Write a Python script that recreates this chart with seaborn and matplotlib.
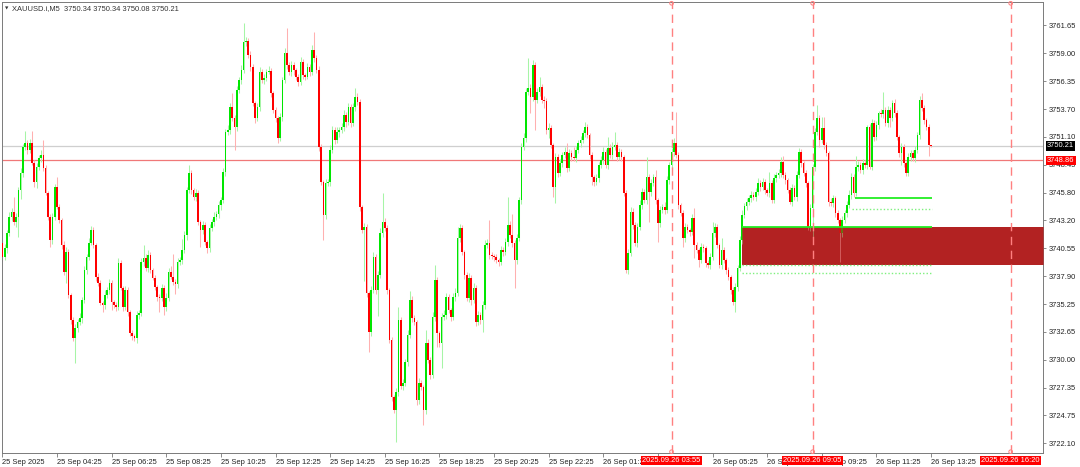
import numpy as np
import matplotlib
matplotlib.use("Agg")
import matplotlib.pyplot as plt
import seaborn as sns
from matplotlib.transforms import blended_transform_factory

# ---------------- data (XAUUSD.i, M5) ----------------
symbol = "XAUUSD.i,M5"
first_open = 3741.03
closes = [
    3739.71, 3740.56, 3741.98, 3743.49, 3743.96, 3743.02, 3743.49, 3746.05, 3747.65, 3750.11,
    3750.49, 3749.83, 3750.49, 3748.60, 3746.80, 3748.22, 3749.07, 3749.36, 3748.13, 3745.76,
    3743.49, 3741.32, 3743.49, 3746.33, 3744.44, 3743.21, 3740.84, 3738.29, 3740.18, 3736.11,
    3733.75, 3732.05, 3732.99, 3733.56, 3733.94, 3735.64, 3738.48, 3739.71, 3741.03, 3742.26,
    3740.84, 3737.82, 3737.25, 3735.36, 3735.17, 3736.11, 3736.59, 3737.25, 3735.45, 3735.17,
    3734.98, 3739.14, 3736.78, 3734.98, 3736.59, 3734.50, 3732.52, 3732.23, 3732.05, 3734.22,
    3734.41, 3739.23, 3739.61, 3738.67, 3739.90, 3738.48, 3737.72, 3736.87, 3735.92, 3735.83,
    3736.78, 3734.98, 3735.83, 3738.29, 3737.82, 3737.34, 3737.15, 3739.23, 3739.42, 3740.37,
    3741.79, 3746.05, 3747.65, 3746.05, 3745.38, 3745.76, 3743.02, 3742.26, 3742.74, 3741.13,
    3740.56, 3742.45, 3743.02, 3743.49, 3743.78, 3744.63, 3745.10, 3747.75, 3751.53, 3751.72,
    3753.90, 3752.86, 3752.00, 3755.51, 3756.45, 3757.40, 3760.05, 3760.14, 3758.82, 3757.68,
    3754.28, 3752.86, 3753.90, 3757.21, 3756.45, 3756.64, 3757.21, 3757.30, 3755.22, 3753.61,
    3752.86, 3750.97, 3752.95, 3756.45, 3759.01, 3757.87, 3757.21, 3757.87, 3757.40, 3756.74,
    3756.26, 3758.15, 3756.92, 3756.74, 3757.68, 3757.21, 3759.29, 3758.53, 3757.40, 3750.11,
    3746.80, 3743.68, 3746.71, 3746.80, 3749.83, 3751.72, 3750.78, 3751.53, 3751.72, 3752.00,
    3753.14, 3752.48, 3753.90, 3752.38, 3753.90, 3754.84, 3754.37, 3744.44, 3742.26, 3742.55,
    3736.30, 3732.61, 3736.59, 3739.71, 3736.59, 3738.00, 3741.98, 3743.02, 3742.45, 3736.59,
    3731.86, 3726.46, 3725.23, 3726.94, 3733.75, 3727.50, 3727.80, 3729.77, 3732.33, 3735.64,
    3733.94, 3733.56, 3726.18, 3727.80, 3727.41, 3725.23, 3731.57, 3729.96, 3728.55, 3734.03,
    3737.53, 3732.52, 3731.57, 3734.03, 3734.22, 3735.92, 3734.69, 3734.03, 3735.92, 3736.30,
    3741.51, 3742.45, 3740.18, 3738.00, 3735.83, 3737.72, 3735.64, 3736.78, 3733.56, 3734.22,
    3733.75, 3735.17, 3740.84, 3741.03, 3739.90, 3739.80, 3739.71, 3739.42, 3739.23, 3740.37,
    3740.18, 3741.13, 3742.74, 3741.79, 3741.03, 3739.42, 3741.51, 3745.10, 3750.11, 3750.97,
    3755.32, 3755.70, 3754.84, 3757.87, 3754.56, 3755.32, 3755.79, 3754.56, 3754.47, 3751.72,
    3751.91, 3750.30, 3746.33, 3749.17, 3747.65, 3748.60, 3749.36, 3749.64, 3748.13, 3749.55,
    3749.17, 3749.07, 3749.83, 3750.49, 3750.78, 3751.44, 3752.00, 3751.25, 3749.36, 3747.28,
    3746.80, 3747.18, 3748.41, 3748.88, 3749.64, 3748.41, 3750.02, 3749.36, 3750.11, 3750.30,
    3749.17, 3749.64, 3749.17, 3745.76, 3738.48, 3740.09, 3743.96, 3742.74, 3741.03, 3742.55,
    3744.63, 3745.86, 3745.10, 3747.28, 3745.86, 3746.71, 3747.28, 3745.10, 3742.92, 3744.15,
    3744.44, 3744.15, 3746.99, 3748.41, 3749.64, 3750.49, 3749.36, 3744.63, 3743.87, 3741.51,
    3742.55, 3742.26, 3742.07, 3743.40, 3740.84, 3740.37, 3739.42, 3740.65, 3740.56, 3739.14,
    3738.95, 3739.71, 3741.98, 3742.55, 3740.84, 3738.95, 3740.37, 3739.42, 3738.48, 3737.82,
    3736.59, 3735.45, 3736.87, 3738.67, 3741.32, 3743.68, 3744.53, 3744.91, 3745.29, 3745.57,
    3745.38, 3745.86, 3746.71, 3746.33, 3746.80, 3746.05, 3745.76, 3746.71, 3745.10, 3747.18,
    3747.47, 3747.65, 3748.69, 3747.47, 3746.99, 3746.05, 3744.91, 3746.23, 3745.38, 3747.47,
    3749.64, 3748.60, 3747.65, 3746.71, 3742.55, 3744.34, 3748.22, 3751.53, 3752.86, 3750.78,
    3751.91, 3750.30, 3749.55, 3744.91, 3744.82, 3745.29, 3743.87, 3743.21, 3741.98, 3743.21,
    3743.87, 3744.63, 3745.57, 3747.28, 3745.76, 3748.22, 3748.41, 3747.94, 3748.60, 3748.41,
    3752.00, 3748.22, 3752.38, 3751.06, 3752.19, 3753.33, 3753.24, 3753.61, 3752.38, 3753.61,
    3752.86, 3754.28, 3753.33, 3751.06, 3749.55, 3750.11, 3748.60, 3747.65, 3749.17, 3749.55,
    3749.07, 3749.83, 3751.25, 3754.56, 3753.80, 3752.67, 3752.00, 3750.34, 3750.21,
]
upper_wick = [
    0.3,0.4,0.3,0.5,0.4,1.4,0.4,0.3,0.5,0.3, 1.1,0.3,0.4,1.1,0.3,0.4,0.3,0.5,1.4,0.3,
    0.2,0.3,0.4,0.3,0.9,0.3,0.2,0.4,0.5,0.3, 0.2,0.3,0.4,0.3,0.5,0.3,0.4,0.3,0.5,0.4,
    0.3,0.2,0.4,0.3,0.2,0.5,0.3,0.4,0.3,0.2, 0.3,0.5,0.3,0.2,0.4,0.3,0.2,0.3,0.2,0.4,
    0.3,0.4,1.2,0.4,0.5,0.3,0.2,0.3,0.2,0.3, 0.4,0.3,0.5,0.4,0.6,2.2,0.3,0.4,0.3,1.0,
    0.4,0.3,0.8,0.3,0.2,0.4,0.3,0.2,0.4,0.3, 0.2,0.4,0.3,0.5,0.3,0.4,0.3,0.4,0.3,0.5,
    0.4,1.3,0.3,0.4,0.3,0.5,1.8,0.4,0.3,0.4, 0.3,0.2,0.4,0.5,0.3,0.4,0.3,0.5,0.3,0.2,
    0.3,0.2,0.4,0.3,0.5,2.4,0.3,0.4,0.3,0.2, 0.3,0.5,0.3,0.2,0.4,0.3,0.5,1.7,0.3,0.4,
    0.3,0.2,0.4,0.3,0.5,0.4,0.3,0.5,0.3,0.4, 0.5,0.3,0.4,0.3,0.4,0.9,0.4,0.3,0.2,0.4,
    0.3,0.2,0.4,0.5,0.3,0.4,0.5,2.7,0.4,0.3, 0.2,0.3,0.2,0.4,1.2,0.3,0.4,0.3,0.5,0.9,
    0.4,0.3,0.2,0.5,0.3,0.2,1.2,0.4,0.3,0.5, 1.4,0.3,0.2,0.4,0.5,0.4,0.3,0.2,0.4,0.5,
    1.0,0.4,0.3,0.2,0.3,0.5,0.3,0.5,0.3,0.4, 0.3,0.4,0.5,0.4,2.2,0.3,0.2,0.3,0.2,0.4,
    0.3,0.4,2.6,0.4,2.0,0.3,0.4,0.3,0.4,0.5, 0.4,2.8,0.4,0.5,0.3,0.4,0.9,0.3,0.4,0.3,
    0.5,0.3,0.2,0.4,0.3,0.4,0.3,0.5,0.9,0.4, 0.3,0.9,0.4,0.3,0.4,0.3,0.5,0.3,0.2,0.3,
    0.2,0.4,0.3,0.4,0.5,0.3,1.0,0.4,0.5,1.2, 0.3,0.4,0.3,0.2,0.3,0.4,0.5,0.4,0.3,0.4,
    0.5,0.4,0.3,1.9,0.3,0.4,0.3,0.7,0.2,0.4, 0.3,0.5,0.4,0.3,0.4,0.5,2.9,0.3,0.2,0.3,
    0.4,0.3,0.2,0.4,0.9,0.3,0.2,0.4,0.3,0.2, 0.3,0.4,1.0,0.4,0.3,0.2,1.1,0.3,0.2,0.3,
    0.2,0.3,0.4,0.3,0.4,0.5,0.3,0.4,0.3,0.4, 0.3,0.4,0.5,0.3,0.4,0.3,0.2,1.0,0.3,0.4,
    0.3,0.4,0.5,0.6,0.3,0.2,0.3,0.4,0.3,0.4, 0.4,0.3,0.2,0.3,0.2,0.4,0.3,0.4,1.2,0.3,
    1.0,1.0,0.3,0.2,0.4,0.3,0.2,0.3,0.2,0.4, 0.3,0.4,0.5,0.4,0.3,1.0,0.4,0.3,0.4,0.3,
    0.2,0.3,0.4,0.3,0.4,0.2,0.4,1.7,0.3,0.4, 0.3,0.3,0.4,0.3,0.2,0.4,0.3,0.2,0.4,0.3,
    0.3,0.4,0.3,0.4,0.7,0.3,0.2,0.3,0.0,
]
lower_wick = [
    0.4,0.3,0.5,0.3,0.4,0.3,0.5,1.9,0.9,0.4, 0.3,0.4,0.3,0.2,0.5,0.6,0.3,0.4,0.3,0.2,
    0.3,0.7,0.4,0.3,0.2,0.3,0.4,0.3,1.0,0.3, 0.4,0.3,2.4,0.4,0.3,0.5,0.3,0.4,0.3,0.2,
    0.3,0.4,0.3,0.2,0.7,0.4,0.3,0.4,0.8,0.3, 0.4,0.3,0.2,0.4,0.3,0.4,0.3,0.4,0.3,0.5,
    0.4,0.3,0.4,0.3,0.4,0.3,0.2,0.3,0.4,1.3, 0.3,0.8,0.4,0.3,0.2,0.3,0.9,0.4,0.3,0.4,
    0.3,0.5,0.3,0.4,0.3,0.4,0.3,1.6,0.4,0.3, 0.5,0.4,0.3,0.4,0.3,0.4,0.5,0.3,0.4,0.3,
    0.4,0.3,2.2,0.4,0.3,0.4,0.3,0.4,0.3,0.4, 0.3,0.5,0.3,0.4,0.3,0.4,0.3,0.2,0.4,0.3,
    0.4,0.5,0.3,0.4,0.3,0.4,0.3,0.4,0.5,0.3, 0.4,0.3,0.4,0.3,0.2,0.4,0.3,0.4,0.3,0.4,
    0.3,2.4,0.4,0.3,0.4,0.3,0.4,0.3,0.5,0.3, 0.4,0.5,0.3,0.4,0.3,0.4,0.3,0.4,0.3,4.8,
    0.4,1.9,0.4,0.3,0.4,2.5,0.3,0.4,0.3,0.4, 0.3,0.4,0.3,3.0,0.4,0.3,0.4,0.3,0.4,0.3,
    0.4,0.3,0.5,0.4,0.3,1.4,0.4,0.3,0.4,0.3, 0.4,1.3,0.4,2.4,0.3,0.4,0.3,0.4,0.3,0.4,
    0.3,0.4,0.3,0.4,0.3,0.4,0.5,0.3,0.4,0.3, 0.4,1.1,0.4,0.3,0.4,0.3,0.4,0.3,0.4,0.3,
    0.4,0.3,0.4,0.3,0.4,2.6,0.4,0.3,0.4,0.3, 0.4,0.3,1.5,0.4,2.8,0.3,0.4,0.3,0.7,0.4,
    0.8,0.3,0.9,1.5,0.4,0.3,0.4,0.3,0.4,0.3, 0.4,0.3,0.4,0.3,0.4,0.3,0.4,0.3,0.4,0.8,
    0.4,0.3,0.4,0.3,0.4,0.3,0.4,0.3,0.4,0.3, 0.4,0.3,0.4,0.3,0.3,0.4,0.3,0.4,0.3,0.4,
    0.3,0.4,0.3,0.4,2.8,0.4,0.3,0.4,1.8,0.4, 0.3,0.4,0.3,0.4,0.3,0.4,0.3,0.4,0.3,0.9,
    0.4,0.3,0.4,0.3,1.2,0.3,0.7,0.3,0.4,0.4, 0.3,0.4,0.3,0.4,0.3,0.3,0.4,0.3,0.4,0.3,
    0.4,0.3,0.9,0.4,0.3,0.4,0.3,0.4,0.3,0.4, 0.3,0.4,0.3,0.4,0.3,0.4,0.3,0.4,0.3,0.3,
    0.4,0.3,0.4,0.3,0.4,0.3,0.2,0.4,0.3,0.4, 0.3,0.4,0.3,0.4,0.3,0.4,2.7,0.4,0.3,0.7,
    0.3,0.4,0.3,0.4,0.3,0.4,0.4,0.3,2.7,0.4, 0.3,0.4,0.3,0.4,0.4,0.3,0.4,0.3,0.4,0.3,
    0.4,0.2,0.3,0.4,0.3,0.4,0.3,0.4,0.3,0.4, 0.9,0.3,0.4,0.3,0.4,1.1,0.4,0.3,0.3,0.4,
    0.3,0.4,0.3,0.4,0.3,0.4,0.3,1.1,0.13,
]

x_tick_labels = ["25 Sep 2025", "25 Sep 04:25", "25 Sep 06:25", "25 Sep 08:25", "25 Sep 10:25",
                 "25 Sep 12:25", "25 Sep 14:25", "25 Sep 16:25", "25 Sep 18:25", "25 Sep 20:25",
                 "25 Sep 22:25", "26 Sep 01:25", "26 Sep 03:25", "26 Sep 05:25", "26 Sep 07:25",
                 "26 Sep 09:25", "26 Sep 11:25", "26 Sep 13:25"]
bars_per_label = 24
hidden_tick_labels = ["26 Sep 03:25"]   # fully covered by the red time box in the original
y_ticks = [3761.65, 3759.00, 3756.35, 3753.70, 3751.10, 3748.45, 3745.80, 3743.20,
           3740.55, 3737.90, 3735.25, 3732.65, 3730.00, 3727.35, 3724.75, 3722.10]

alert_level = 3748.86
vline_bars = [294, 356, 443]
vline_labels = ["2025.09.26 03:55", "2025.09.26 09:05", "2025.09.26 16:20"]

zone_start = 324.8
zone_top = 3742.55
zone_bottom = 3738.95
level_end = 408.5
solid_levels = [(324.8, 3742.55), (374.5, 3745.28)]
dotted_levels = [(324.8, 3738.95), (324.8, 3738.19), (373.3, 3744.24)]

# ---------------- derived ----------------
c = np.array(closes)
o = np.concatenate([[first_open], c[:-1]])
hi = np.maximum(o, c) + np.array(upper_wick)
lo = np.minimum(o, c) - np.array(lower_wick)
idx = np.arange(len(c))
up = c >= o

# ---------------- figure ----------------
sns.set_theme(style="white")
plt.rcParams['font.family'] = ['Liberation Sans', 'DejaVu Sans']
FS = 5.4

fig = plt.figure(figsize=(10.8, 4.67), dpi=100)
ax = fig.add_axes([0.00139, 0.02998, 0.96435, 0.96574])
ax.set_xlim(-0.4, 457.2)
ax.set_ylim(3721.17, 3763.83)
ax.set_facecolor("white")

# zone (opaque base)
ax.fill_between([zone_start, 470], zone_bottom, zone_top, color="#b22222", lw=0, zorder=1)

# horizontal lines
ax.axhline(c[-1], color="#cfcfcf", lw=0.9, zorder=1.2)
ax.axhline(alert_level, color="#f07878", lw=0.9, zorder=1.2)

# candles
ax.vlines(idx, lo, hi, colors=np.where(up, "#a6f5a6", "#ffb0b0"), lw=0.75, zorder=2)
ax.bar(idx, np.maximum(np.abs(c - o), 0.06), bottom=np.minimum(o, c), width=0.72,
       color=np.where(up, "#00e600", "#ff0000"), lw=0, zorder=3)

# zone (translucent overlay -> olive candles inside)
ax.fill_between([zone_start, 470], zone_bottom, zone_top, color="#b22222", alpha=0.6,
                lw=0, zorder=4)

# green levels
for xs, yv in solid_levels:
    ax.plot([xs, level_end], [yv, yv], color="#22ee22", lw=1.3, zorder=5, solid_capstyle="butt")
for xs, yv in dotted_levels:
    ax.plot([xs, level_end], [yv, yv], color="#7ef07e", lw=1.0, ls=(0, (1, 1.5)), zorder=5)

# vertical dashed lines
for vb in vline_bars:
    ax.axvline(vb, color="#ff8080", lw=1.0, ls=(0, (6, 4)), zorder=6)
ylo, yhi = ax.get_ylim()
sns.scatterplot(x=vline_bars * 2, y=[yhi - 0.12] * 3 + [ylo + 0.12] * 3, ax=ax, marker="o", s=7,
                facecolor="none", edgecolor="#ff8080", linewidth=0.7, zorder=7, clip_on=False,
                legend=False)

# axes styling
for sp in ax.spines.values():
    sp.set_color("#7a7a7a")
    sp.set_linewidth(0.7)
ax.yaxis.tick_right()
ax.set_yticks(y_ticks)
ax.set_yticklabels([f"{v:.2f}" for v in y_ticks])
ax.set_xticks(np.arange(len(x_tick_labels)) * bars_per_label)
ax.set_xticklabels(x_tick_labels)
for lbl in ax.get_xticklabels():
    lbl.set_horizontalalignment("left")
    if lbl.get_text() in hidden_tick_labels:
        lbl.set_visible(False)
ax.tick_params(axis="y", right=True, left=False, length=2.5, width=0.6, color="#777777",
               pad=1.5, labelsize=FS, labelcolor="#222222", direction="out")
ax.tick_params(axis="x", bottom=True, length=3, width=0.6, color="#777777", pad=1.2,
               labelsize=FS, labelcolor="#222222", direction="out")
ax.set_xlabel("")
ax.set_ylabel("")
ax.grid(False)

# price labels on right
tr_y = blended_transform_factory(ax.transAxes, ax.transData)
ax.text(1.0038, c[-1], f"{c[-1]:.2f}", transform=tr_y, ha="left", va="center", fontsize=FS,
        color="white", bbox=dict(boxstyle="square,pad=0.15", fc="black", ec="none"),
        clip_on=False, zorder=10)
ax.text(1.0038, alert_level, f"{alert_level:.2f}", transform=tr_y, ha="left", va="center",
        fontsize=FS, color="white", bbox=dict(boxstyle="square,pad=0.15", fc="#ff0000", ec="none"),
        clip_on=False, zorder=10)

# time labels on bottom
tr_x = blended_transform_factory(ax.transData, ax.transAxes)
for vb, lab in zip(vline_bars, vline_labels):
    ax.text(vb, -0.0165, lab, transform=tr_x, ha="center", va="center", fontsize=FS,
            color="white", bbox=dict(boxstyle="square,pad=0.15", fc="#ff0000", ec="none"),
            clip_on=False, zorder=10)

# header
fig.text(5 / 1080, 1 - 8.5 / 467, "\u25BC", fontsize=3.2, color="#333333", va="center",
         family=["DejaVu Sans"])
fig.text(12 / 1080, 1 - 8.5 / 467,
         f"{symbol}  {o[-1]:.2f} {hi[-1]:.2f} {lo[-1]:.2f} {c[-1]:.2f}",
         fontsize=FS, color="#333333", va="center")

fig.savefig("out.png", dpi=100)
